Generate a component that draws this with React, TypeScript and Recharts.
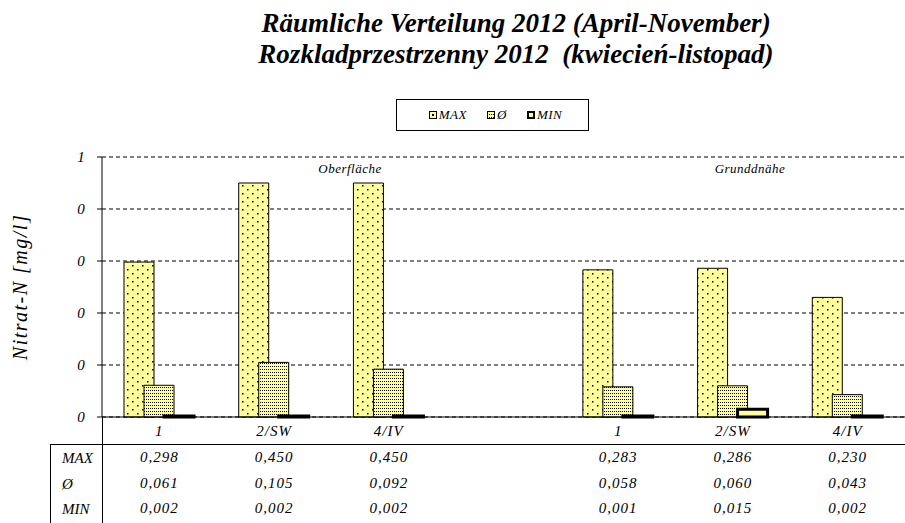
import React from 'react';
import { BarChart, Bar, XAxis, YAxis, CartesianGrid } from 'recharts';

const categories = ['1', '2/SW', '4/IV', '', '1', '2/SW', '4/IV'];
const maxValues = [0.298, 0.45, 0.45, null, 0.283, 0.286, 0.23];
const avgValues = [0.061, 0.105, 0.092, null, 0.058, 0.06, 0.043];
const minValues = [0.002, 0.002, 0.002, null, 0.001, 0.015, 0.002];
const seriesNames = ['MAX', 'Ø', 'MIN'];
const yTicks = [0, 0.1, 0.2, 0.3, 0.4, 0.5];
const yTickLabels = ['0', '0', '0', '0', '0', '1'];
const yMinorTicks = [0, 0.02, 0.04, 0.06, 0.08, 0.1, 0.12, 0.14, 0.16, 0.18, 0.2, 0.22, 0.24, 0.26, 0.28, 0.3, 0.32, 0.34, 0.36, 0.38, 0.4, 0.42, 0.44, 0.46, 0.48, 0.5];
const titleLines = ['Räumliche Verteilung 2012 (April-November)', 'Rozkladprzestrzenny 2012  (kwiecień-listopad)'];
const groupLabels = ['Oberfläche', 'Grunddnähe'];
const yLabel = 'Nitrat-N [mg/l]';

const data = categories.map((c, i) => ({
  key: 'c' + i,
  label: c,
  max: maxValues[i],
  avg: avgValues[i],
  min: minValues[i],
}));

const FONT = "'Liberation Serif', 'Times New Roman', serif";
const YELLOW = '#FFFF9E';
const fmt = (v: number | null) => (v == null ? '' : v.toFixed(3).replace('.', ','));

const XTick = (props: any) => {
  const { x, y, payload } = props;
  const i = payload.index;
  const row = data[i];
  const common = { textAnchor: 'middle' as const, fontFamily: FONT, fontStyle: 'italic', fontSize: 15, fill: '#000', letterSpacing: 1 };
  return (
    <g>
      <text x={x} y={y + 19} {...common}>{row.label}</text>
      <text x={x} y={y + 45} {...common}>{fmt(row.max)}</text>
      <text x={x} y={y + 71} {...common}>{fmt(row.avg)}</text>
      <text x={x} y={y + 96} {...common}>{fmt(row.min)}</text>
    </g>
  );
};

const YTick = (props: any) => {
  const { x, y, payload, index } = props;
  return (
    <text x={x - 14} y={y + 5} textAnchor="middle" fontFamily={FONT} fontStyle="italic" fontSize={15} fill="#000">
      {yTickLabels[index] ?? String(payload.value)}
    </text>
  );
};

const LegendBox = () => (
  <div
    style={{
      position: 'absolute',
      left: 396,
      top: 99,
      width: 191,
      height: 30,
      border: '1px solid #000',
      background: '#fff',
      display: 'flex',
      alignItems: 'center',
      justifyContent: 'center',
      fontFamily: FONT,
      fontStyle: 'italic',
      fontSize: 13,
      letterSpacing: 0.5,
      boxSizing: 'content-box',
    }}
  >
    {seriesNames.map((n, i) => (
      <div key={n} style={{ display: 'flex', alignItems: 'center', marginLeft: i === 0 ? 6 : 20 }}>
        <svg width={8} height={8} style={{ marginRight: 2 }}>
          <defs>
            <pattern id={'lp' + i} width={2} height={3} patternUnits="userSpaceOnUse">
              <rect width={2} height={3} fill={YELLOW} />
              <rect width={1} height={1} fill="#000" />
            </pattern>
          </defs>
          <rect x={i === 2 ? 1 : 0.5} y={i === 2 ? 1 : 0.5} width={i === 2 ? 6 : 7} height={i === 2 ? 6 : 7} fill={i === 1 ? 'url(#lp1)' : YELLOW} stroke="#000" strokeWidth={i === 2 ? 2 : 1} />
          {i === 0 && <rect x={3} y={3} width={2} height={2} fill="#000" />}
        </svg>
        <span>{n}</span>
      </div>
    ))}
  </div>
);

export default function App() {
  return (
    <div style={{ position: 'absolute', left: 0, top: 0, width: 905, height: 523, background: '#fff', overflow: 'hidden' }}>
      <BarChart
        width={905}
        height={523}
        data={data}
        margin={{ top: 157, right: 0, bottom: 76, left: 62 }}
        barSize={30}
        barGap={-10}
      >
        <defs>
          <pattern id="patMax" width={10} height={8} patternUnits="userSpaceOnUse">
            <rect width={10} height={8} fill={YELLOW} />
            <rect x={2} y={1} width={1.5} height={1.5} fill="#000" />
            <rect x={7} y={5} width={1.5} height={1.5} fill="#000" />
          </pattern>
          <pattern id="patAvg" width={2} height={3} patternUnits="userSpaceOnUse">
            <rect width={2} height={3} fill={YELLOW} />
            <rect x={0} y={0} width={1} height={1} fill="#000" />
          </pattern>
        </defs>
        <CartesianGrid yAxisId="major" vertical={false} stroke="#000" strokeDasharray="4 3" />
        <XAxis
          dataKey="key"
          yAxisId="major"
          height={30}
          axisLine={{ stroke: '#000' }}
          tickLine={false}
          tickSize={0}
          tickMargin={0}
          tick={<XTick />}
          interval={0}
        />
        <YAxis
          yAxisId="minor"
          width={0}
          domain={[0, 0.5]}
          ticks={yMinorTicks}
          tick={false}
          tickSize={3}
          axisLine={false}
          tickLine={{ stroke: '#000' }}
        />
        <YAxis
          yAxisId="major"
          width={40}
          domain={[0, 0.5]}
          ticks={yTicks}
          tickSize={5}
          axisLine={{ stroke: '#000' }}
          tickLine={{ stroke: '#000' }}
          tick={<YTick />}
          interval={0}
        />
        <Bar yAxisId="major" dataKey="max" name={seriesNames[0]} fill="url(#patMax)" stroke="#000" strokeWidth={1} isAnimationActive={false} />
        <Bar yAxisId="major" dataKey="avg" name={seriesNames[1]} fill="url(#patAvg)" stroke="#000" strokeWidth={1} isAnimationActive={false} />
        <Bar yAxisId="major" dataKey="min" name={seriesNames[2]} fill={YELLOW} stroke="#000" strokeWidth={3} minPointSize={1} isAnimationActive={false} />
      </BarChart>
      <LegendBox />
      <svg width={905} height={523} style={{ position: 'absolute', left: 0, top: 0, pointerEvents: 'none' }}>
        <text x={516} y={32} textAnchor="middle" fontFamily={FONT} fontStyle="italic" fontWeight="bold" fontSize={27}>{titleLines[0]}</text>
        <text x={516} y={63} textAnchor="middle" fontFamily={FONT} fontStyle="italic" fontWeight="bold" fontSize={27} style={{ whiteSpace: 'pre' }}>{titleLines[1]}</text>
        <text x={350} y={173} textAnchor="middle" fontFamily={FONT} fontStyle="italic" fontSize={13} letterSpacing={0.5}>{groupLabels[0]}</text>
        <text x={750} y={173} textAnchor="middle" fontFamily={FONT} fontStyle="italic" fontSize={13} letterSpacing={0.5}>{groupLabels[1]}</text>
        <text x={27} y={287} textAnchor="middle" fontFamily={FONT} fontStyle="italic" fontSize={20} letterSpacing={1.5} transform="rotate(-90 27 287)">{yLabel}</text>
        <line x1={50} y1={444.5} x2={905} y2={444.5} stroke="#000" />
        <line x1={50.5} y1={444} x2={50.5} y2={523} stroke="#000" />
        <line x1={102.5} y1={417} x2={102.5} y2={523} stroke="#000" />
        <text x={62} y={463} fontFamily={FONT} fontStyle="italic" fontSize={15}>{seriesNames[0]}</text>
        <text x={62} y={489} fontFamily={FONT} fontStyle="italic" fontSize={15}>{seriesNames[1]}</text>
        <text x={62} y={514} fontFamily={FONT} fontStyle="italic" fontSize={15}>{seriesNames[2]}</text>
      </svg>
    </div>
  );
}
